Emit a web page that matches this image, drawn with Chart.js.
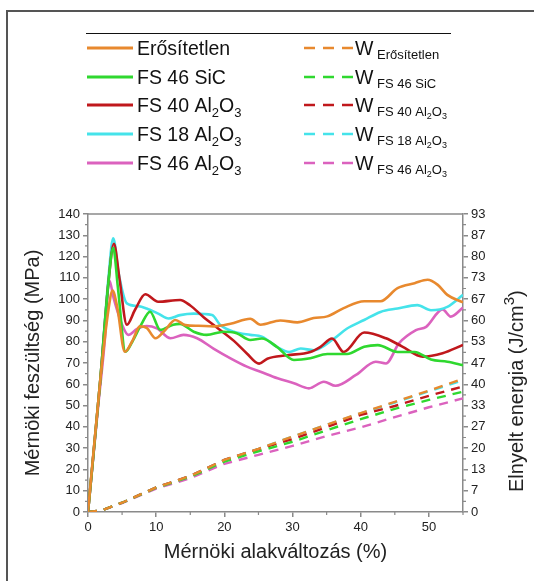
<!DOCTYPE html>
<html>
<head>
<meta charset="utf-8">
<title>Mérnöki feszültség - alakváltozás</title>
<script src="https://cdn.jsdelivr.net/npm/chart.js@4.4.1/dist/chart.umd.min.js"></script>
<style>
  html, body { margin: 0; padding: 0; background: #fff; }
  #chart { display: block; }
</style>
</head>
<body>
<canvas id="chart" width="534" height="581"></canvas>
<script>
// Series names (digits right after a letter are drawn as subscripts)
const seriesNames = ['Erősítetlen', 'FS 46 SiC', 'FS 40 Al2O3', 'FS 18 Al2O3', 'FS 46 Al2O3'];
const seriesColors = ['#E8892E', '#2FD82F', '#C0181C', '#45E3EA', '#DB62BE'];

// Stress-strain curves (strain %, stress MPa)
const erositetlenX = [0, 1.8, 3.0, 3.6, 4.3, 5.4, 6.6, 7.6, 8.6, 9.9, 11.2, 12.8, 14.3, 16.2, 18.4, 20.9, 23.8, 25.3, 28.2, 30.7, 33.1, 35.1, 37.5, 40.5, 42.9, 45.4, 47.9, 49.8, 51.3, 52.7, 55];
const erositetlenY = [0, 62, 95, 104, 96, 75.3, 81, 87.2, 86.5, 81.6, 85, 90.2, 87.8, 87.5, 87.2, 88.4, 90.8, 88, 90, 89.1, 91.1, 91.9, 95.8, 99, 99, 105.2, 107.5, 109.1, 106.7, 102, 98.5];

const sic46X = [0, 1.8, 3.0, 3.7, 4.4, 5.5, 6.5, 7.8, 9.1, 10.6, 12.5, 13.5, 15.5, 17.4, 19.9, 21.8, 23.8, 25.5, 27.7, 30.2, 32.6, 35.1, 38, 40.5, 42.5, 45.4, 47.9, 50.3, 52.7, 55];
const sic46Y = [0, 62, 108, 124, 105, 75.3, 80, 88, 94.1, 85.6, 88, 88.4, 84.7, 83.2, 84.7, 84, 80.8, 81.5, 77.6, 71.4, 72.2, 74.2, 74.2, 77.6, 78.4, 75.2, 75.2, 71.6, 70.6, 69];

const al40X = [0, 1.8, 3.0, 3.8, 4.6, 5.7, 6.9, 8.4, 10.3, 13.5, 15, 17, 18.9, 21.4, 23.3, 25.1, 26.3, 29.2, 32.6, 34.1, 35.8, 37.5, 40.5, 43.7, 46.1, 49.1, 52, 55];
const al40Y = [0, 62, 108, 126, 110, 88, 95, 102.3, 98.8, 99.6, 97, 91.4, 86.7, 80.4, 74.5, 69.7, 72, 73.6, 75.2, 77.6, 81.5, 75.2, 84.3, 81.6, 77.7, 73, 74.6, 78.5];

const al18X = [0, 1.8, 3.0, 3.7, 4.5, 5.7, 7.4, 8.6, 10.3, 11.8, 13.5, 15.5, 18.2, 19.4, 21.4, 23.8, 25.5, 27.7, 29.5, 31.2, 33.1, 36.1, 38, 40.5, 42.9, 45.4, 48.3, 50.3, 52.7, 55];
const al18Y = [0, 62, 110, 128.6, 112, 98, 96.7, 95.6, 93.2, 90.9, 92.5, 93.2, 92.5, 87.9, 84.7, 83.2, 82.4, 77.6, 75.2, 76.8, 76, 81.5, 86.2, 90.2, 94, 95.6, 97.2, 94.8, 96.4, 102];

const al46X = [0, 1.5, 2.5, 3.1, 3.8, 5.0, 5.9, 7.2, 8.6, 10.1, 12.1, 14, 16, 18.4, 20.9, 23.3, 25.3, 27.8, 30.2, 32.4, 34.6, 36.3, 39.3, 42.2, 43.7, 45.6, 48.1, 49.6, 52, 53.2, 55];
const al46Y = [0, 50, 82, 109, 100, 88, 83.2, 86, 87.4, 86.3, 81.6, 83.2, 81.6, 76.8, 72.2, 68.3, 65.9, 62.8, 60.5, 58.1, 61.2, 59.3, 64.4, 70.6, 69.8, 79.2, 85.4, 87, 95.2, 91.8, 96];

// Absorbed energy (J/cm3) sampled at these strains
const energyX = [0, 2, 5, 10, 15, 20, 25, 30, 35, 40, 45, 50, 55];
const wErositetlen = [0, 0.5, 2.9, 7.7, 11.3, 16.3, 19.8, 23.6, 27.3, 31.0, 34.5, 38.0, 41.7];
const wSic46 = [0, 0.5, 2.9, 7.6, 11.0, 15.8, 19.0, 22.0, 25.6, 29.1, 32.3, 35.1, 37.7];
const wAl40 = [0, 0.5, 2.9, 7.7, 11.3, 16.3, 19.7, 22.8, 26.6, 30.4, 33.2, 36.4, 39.3];
const wAl18 = [0, 0.5, 2.9, 7.7, 11.3, 16.3, 19.8, 23.6, 27.3, 30.9, 34.3, 37.8, 41.3];
const wAl46 = [0, 0.5, 2.8, 7.3, 10.6, 15.1, 17.9, 20.7, 23.8, 26.5, 29.7, 32.8, 35.6];

// Axis ticks
const xTicks = [0, 10, 20, 30, 40, 50];
const rightTickLabels = ['0', '7', '13', '20', '27', '33', '40', '47', '53', '60', '67', '73', '80', '87', '93'];

const FONT = "'Liberation Sans', Arial, sans-serif";
const AXIS_GREY = '#8a8a8a';
const Y2_MAX = 140 / 1.5;
const TITLE_SIZE = 20;

const toPoints = (xs, ys) => xs.map((x, i) => ({ x: x, y: ys[i] }));

const stressSets = [
    [erositetlenX, erositetlenY],
    [sic46X, sic46Y],
    [al40X, al40Y],
    [al18X, al18Y],
    [al46X, al46Y]
];
const energySets = [wErositetlen, wSic46, wAl40, wAl18, wAl46];

const datasets = [];
stressSets.forEach((s, i) => {
    datasets.push({
        label: seriesNames[i],
        data: toPoints(s[0], s[1]),
        borderColor: seriesColors[i],
        borderWidth: 2.6,
        pointRadius: 0,
        cubicInterpolationMode: 'monotone',
        yAxisID: 'y'
    });
});
energySets.forEach((w, i) => {
    datasets.push({
        label: 'W ' + seriesNames[i],
        data: toPoints(energyX, w),
        borderColor: seriesColors[i],
        borderWidth: 2.4,
        borderDash: [9, 7],
        pointRadius: 0,
        yAxisID: 'y2'
    });
});

// draw text where a digit right after a letter becomes a subscript
function drawRich(ctx, text, x, y, size, subSize, subShift) {
    let cx = x;
    for (let i = 0; i < text.length; i++) {
        const ch = text[i];
        const isSub = /[0-9]/.test(ch) && i > 0 && /[A-Za-z]/.test(text[i - 1]);
        ctx.font = (isSub ? subSize : size) + 'px ' + FONT;
        ctx.fillText(ch, cx, isSub ? y + subShift : y);
        cx += ctx.measureText(ch).width;
    }
    return cx;
}

const decorations = {
    id: 'decorations',
    afterDraw(chart) {
        const ctx = chart.ctx;
        const area = chart.chartArea;
        const sx = chart.scales.x, sy = chart.scales.y, sy2 = chart.scales.y2;
        ctx.save();

        // outer frame (left and top)
        ctx.strokeStyle = '#555';
        ctx.lineWidth = 2;
        ctx.beginPath();
        ctx.moveTo(7, 581);
        ctx.lineTo(7, 11);
        ctx.lineTo(534, 11);
        ctx.stroke();

        // top border of the plot
        ctx.strokeStyle = AXIS_GREY;
        ctx.lineWidth = 1.5;
        ctx.beginPath();
        ctx.moveTo(area.left, area.top);
        ctx.lineTo(area.right, area.top);
        ctx.stroke();

        // minor ticks
        ctx.lineWidth = 1.2;
        ctx.beginPath();
        for (let v = 5; v < 140; v += 10) {
            const py = sy.getPixelForValue(v);
            ctx.moveTo(area.left, py);
            ctx.lineTo(area.left - 3, py);
        }
        for (let k = 0; k < 14; k++) {
            const py = sy2.getPixelForValue((k + 0.5) * Y2_MAX / 14);
            ctx.moveTo(area.right, py);
            ctx.lineTo(area.right + 3, py);
        }
        for (let v = 5; v <= 55; v += 10) {
            const px = sx.getPixelForValue(v);
            ctx.moveTo(px, area.bottom);
            ctx.lineTo(px, area.bottom + 3);
        }
        ctx.stroke();

        // right axis title, reading bottom to top
        ctx.save();
        ctx.translate(517, 492);
        ctx.rotate(-Math.PI / 2);
        ctx.fillStyle = '#222';
        ctx.textAlign = 'left';
        ctx.textBaseline = 'middle';
        ctx.font = TITLE_SIZE + 'px ' + FONT;
        const mainTitle = 'Elnyelt energia (J/cm';
        ctx.fillText(mainTitle, 0, 0);
        let tx = ctx.measureText(mainTitle).width;
        ctx.font = '15px ' + FONT;
        ctx.fillText('3', tx, -7);
        tx += ctx.measureText('3').width;
        ctx.font = TITLE_SIZE + 'px ' + FONT;
        ctx.fillText(')', tx, 0);
        ctx.restore();

        // legend
        ctx.strokeStyle = '#111';
        ctx.lineWidth = 1;
        ctx.beginPath();
        ctx.moveTo(86, 33.5);
        ctx.lineTo(451, 33.5);
        ctx.stroke();

        const rowY = [48, 77, 105, 134, 163];
        ctx.fillStyle = '#111';
        ctx.textBaseline = 'alphabetic';
        ctx.textAlign = 'left';
        seriesNames.forEach((name, i) => {
            const y = rowY[i];
            ctx.strokeStyle = seriesColors[i];
            ctx.lineWidth = 2.8;
            ctx.setLineDash([]);
            ctx.beginPath();
            ctx.moveTo(87, y);
            ctx.lineTo(133, y);
            ctx.stroke();
            drawRich(ctx, name, 137, y + 7, 19.5, 13, 5);

            ctx.lineWidth = 2.6;
            ctx.setLineDash([11, 8]);
            ctx.beginPath();
            ctx.moveTo(304, y);
            ctx.lineTo(353, y);
            ctx.stroke();
            ctx.setLineDash([]);
            ctx.font = '19.5px ' + FONT;
            ctx.fillText('W', 355, y + 7);
            drawRich(ctx, name, 377, y + 11, 13, 9, 3);
        });

        ctx.restore();
    }
};

Chart.defaults.font.family = FONT;
Chart.defaults.color = '#222';

new Chart(document.getElementById('chart'), {
    type: 'line',
    data: { datasets: datasets },
    options: {
        responsive: false,
        animation: false,
        events: [],
        layout: { padding: { top: 214, left: 0, right: 0, bottom: 0 } },
        plugins: {
            legend: { display: false },
            tooltip: { enabled: false }
        },
        scales: {
            x: {
                type: 'linear',
                position: 'bottom',
                min: 0,
                max: 55,
                afterBuildTicks: s => { s.ticks = xTicks.map(v => ({ value: v })); },
                afterFit: s => { s.height = 69; },
                grid: { drawOnChartArea: false, tickLength: 5, color: AXIS_GREY, lineWidth: 1.5 },
                border: { color: AXIS_GREY, width: 1.5 },
                ticks: { font: { size: 13 }, color: '#222', padding: 3, maxRotation: 0 },
                title: {
                    display: true,
                    text: 'Mérnöki alakváltozás (%)',
                    font: { size: TITLE_SIZE },
                    color: '#222',
                    padding: { top: 0, bottom: 17 }
                }
            },
            y: {
                type: 'linear',
                position: 'left',
                min: 0,
                max: 140,
                afterFit: s => { s.width = 88; },
                grid: { drawOnChartArea: false, tickLength: 5, color: AXIS_GREY, lineWidth: 1.5 },
                border: { color: AXIS_GREY, width: 1.5 },
                ticks: { stepSize: 10, font: { size: 13 }, color: '#222', padding: 3 },
                title: {
                    display: true,
                    text: 'Mérnöki feszültség (MPa)',
                    font: { size: TITLE_SIZE },
                    color: '#222',
                    padding: { top: 21, bottom: 0 }
                }
            },
            y2: {
                type: 'linear',
                position: 'right',
                min: 0,
                max: Y2_MAX,
                afterBuildTicks: s => {
                    s.ticks = rightTickLabels.map((_, i) => ({ value: i * Y2_MAX / 14 }));
                },
                afterFit: s => { s.width = 71; },
                grid: { drawOnChartArea: false, tickLength: 5, color: AXIS_GREY, lineWidth: 1.5 },
                border: { color: AXIS_GREY, width: 1.5 },
                ticks: {
                    font: { size: 13 },
                    color: '#222',
                    padding: 3,
                    callback: (v, i) => rightTickLabels[i]
                },
                title: { display: false }
            }
        }
    },
    plugins: [decorations]
});
</script>
</body>
</html>
